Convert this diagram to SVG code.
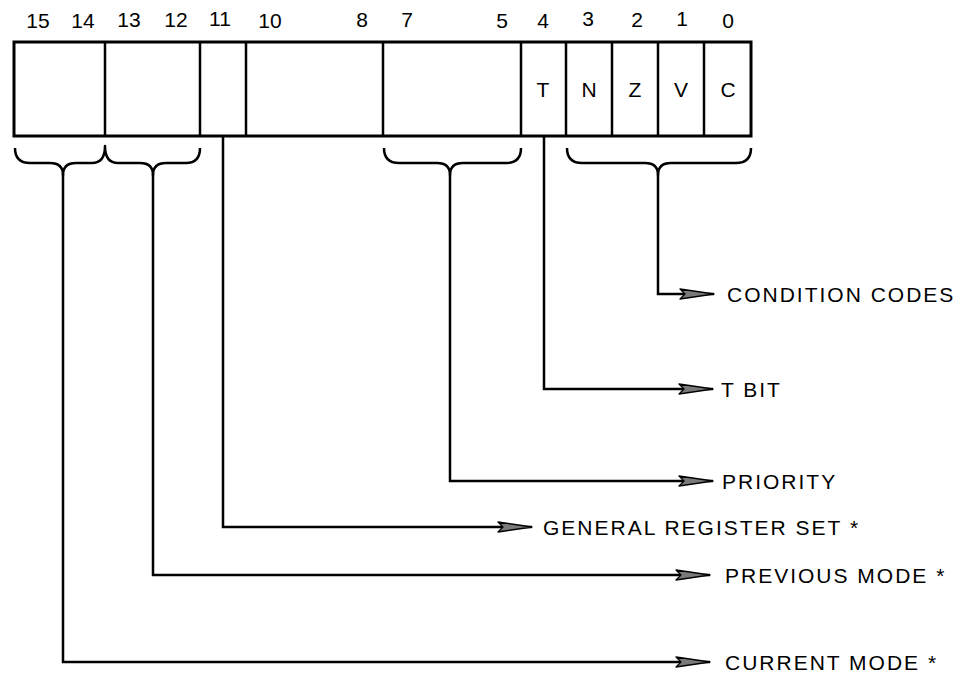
<svg xmlns="http://www.w3.org/2000/svg" width="960" height="675" viewBox="0 0 960 675">
<defs>
<marker id="arr" markerUnits="userSpaceOnUse" viewBox="0 -6 36 12" refX="35" refY="0" markerWidth="36" markerHeight="12" orient="auto">
<path d="M1,-5 L35,0 L1,5 L6,0 Z" fill="#7a7a7a" stroke="#000" stroke-width="1.3" stroke-linejoin="round"/>
</marker>
</defs>
<style>
.box{fill:#fff;stroke:#000;stroke-width:3}
.div{stroke:#000;stroke-width:2.5}
.num{font-family:"Liberation Sans",Arial,sans-serif;font-size:21px;text-anchor:middle;fill:#000}
.bit{font-family:"Liberation Sans",Arial,sans-serif;font-size:21px;text-anchor:middle;fill:#000}
.lbl{font-family:"Liberation Sans",Arial,sans-serif;font-size:21px;letter-spacing:2px;fill:#000}
.brace{fill:none;stroke:#000;stroke-width:2.5;stroke-linejoin:round}
.con{fill:none;stroke:#000;stroke-width:2.5;marker-end:url(#arr)}
</style>
<rect width="960" height="675" fill="#fff"/>
<g id="register">
<rect class="box" x="14" y="42" width="737" height="94"/>
<line class="div" x1="105" y1="42" x2="105" y2="136"/>
<line class="div" x1="200" y1="42" x2="200" y2="136"/>
<line class="div" x1="246" y1="42" x2="246" y2="136"/>
<line class="div" x1="383" y1="42" x2="383" y2="136"/>
<line class="div" x1="521" y1="42" x2="521" y2="136"/>
<line class="div" x1="566" y1="42" x2="566" y2="136"/>
<line class="div" x1="612" y1="42" x2="612" y2="136"/>
<line class="div" x1="658" y1="42" x2="658" y2="136"/>
<line class="div" x1="704" y1="42" x2="704" y2="136"/>
<text class="bit" x="543" y="97">T</text>
<text class="bit" x="589" y="97">N</text>
<text class="bit" x="635" y="97">Z</text>
<text class="bit" x="681" y="97">V</text>
<text class="bit" x="728" y="97">C</text>
</g>
<g id="bit-numbers">
<text class="num" x="38" y="28">15</text>
<text class="num" x="83" y="28">14</text>
<text class="num" x="129" y="27">13</text>
<text class="num" x="176" y="27">12</text>
<text class="num" x="220" y="26">11</text>
<text class="num" x="270" y="28">10</text>
<text class="num" x="362" y="27">8</text>
<text class="num" x="407" y="27">7</text>
<text class="num" x="502" y="28">5</text>
<text class="num" x="543" y="28">4</text>
<text class="num" x="588" y="26">3</text>
<text class="num" x="637" y="27">2</text>
<text class="num" x="682" y="26">1</text>
<text class="num" x="728" y="28">0</text>
</g>
<g id="braces">
<path class="brace" d="M15,148 Q15,163 30,163 L50,163 Q63,163 63,175 Q63,163 76,163 L92,163 Q105,163 105,146 Q105,163 118,163 L140,163 Q153,163 153,175 Q153,163 166,163 L186,163 Q200,163 200,148"/>
<path class="brace" d="M384,148 Q384,163 399,163 L437,163 Q450,163 450,175 Q450,163 463,163 L506,163 Q521,163 521,148"/>
<path class="brace" d="M567,148 Q567,163 582,163 L645,163 Q658,163 658,175 Q658,163 671,163 L736,163 Q751,163 751,148"/>
</g>
<g id="connectors">
<path class="con" d="M658,174 L658,294 L714,294"/>
<path class="con" d="M544,136 L544,389 L713,389"/>
<path class="con" d="M450,174 L450,481 L713,481"/>
<path class="con" d="M223,136 L223,527 L532,527"/>
<path class="con" d="M153,174 L153,575 L710,575"/>
<path class="con" d="M63,174 L63,662 L710,662"/>
</g>
<g id="labels">
<text class="lbl" x="727" y="301.5">CONDITION CODES</text>
<text class="lbl" x="721" y="396.5">T BIT</text>
<text class="lbl" x="722" y="488.5">PRIORITY</text>
<text class="lbl" x="543" y="534.5">GENERAL REGISTER SET *</text>
<text class="lbl" x="725" y="582.5">PREVIOUS MODE *</text>
<text class="lbl" x="725" y="669.5">CURRENT MODE *</text>
</g>
</svg>
